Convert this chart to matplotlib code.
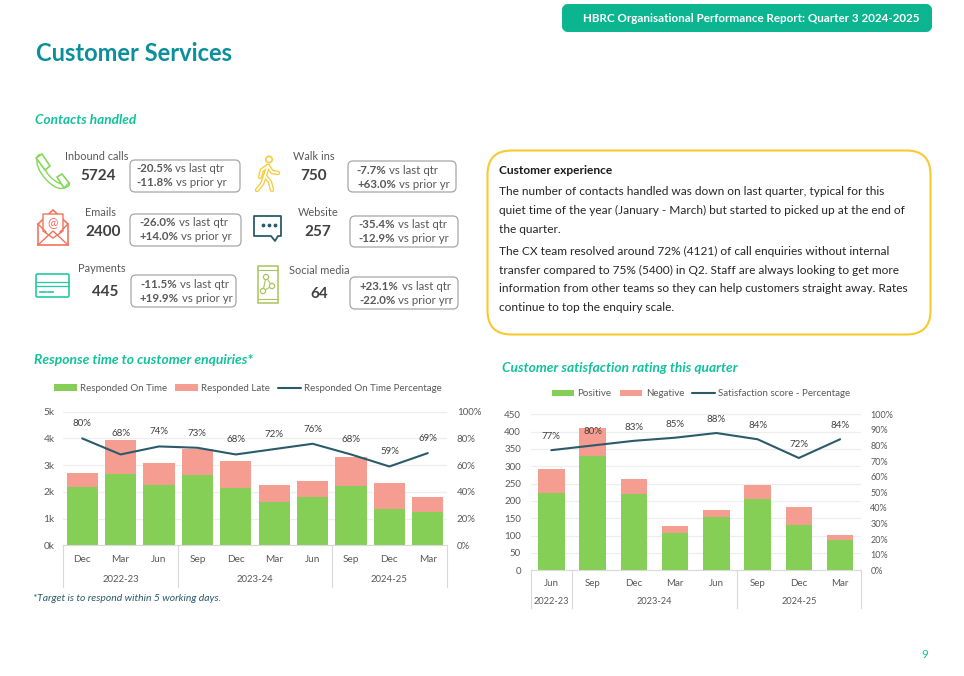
import matplotlib
matplotlib.use('Agg')
import matplotlib.pyplot as plt
from matplotlib.patches import FancyBboxPatch, Rectangle, Circle, PathPatch, Polygon
from matplotlib.path import Path

plt.rcParams['font.family'] = ['Lato', 'DejaVu Sans']

W, H = 964, 676

# response time chart
resp_months = ['Dec', 'Mar', 'Jun', 'Sep', 'Dec', 'Mar', 'Jun', 'Sep', 'Dec', 'Mar']
resp_years = [('2022-23', 3), ('2023-24', 4), ('2024-25', 3)]
resp_on_time = [2180, 2660, 2260, 2640, 2140, 1620, 1820, 2220, 1370, 1250]
resp_late = [520, 1290, 810, 970, 1010, 630, 590, 1070, 950, 550]
resp_pct = [80, 68, 74, 73, 68, 72, 76, 68, 59, 69]

# satisfaction chart
sat_months = ['Jun', 'Sep', 'Dec', 'Mar', 'Jun', 'Sep', 'Dec', 'Mar']
sat_years = [('2022-23', 1), ('2023-24', 4), ('2024-25', 3)]
sat_positive = [223, 329, 219, 109, 155, 207, 131, 87]
sat_negative = [68, 81, 44, 20, 19, 39, 51, 15]
sat_pct = [77, 80, 83, 85, 88, 84, 72, 84]

# KPI blocks: label, value, (label x, y), (value x, y), box, line 1, line 2
kpis = [
    ('Inbound calls', '5724', (97, 156), (98, 175.5), (130, 160, 240, 192),
     ('-20.5%', ' vs last qtr', 136, 168), ('-11.8%', ' vs prior yr', 136, 182)),
    ('Walk ins', '750', (314, 156.5), (314, 175.5), (348, 161, 456, 192),
     ('-7.7%', ' vs last qtr', 356, 170), ('+63.0%', ' vs prior yr', 357, 184)),
    ('Emails', '2400', (101, 212), (103, 231.5), (130, 214, 241, 246),
     ('-26.0%', ' vs last qtr', 139, 223), ('+14.0%', ' vs prior yr', 139, 237)),
    ('Website', '257', (318, 212), (318, 231.5), (350, 216, 458, 247),
     ('-35.4%', ' vs last qtr', 358, 225), ('-12.9%', ' vs prior yr', 358, 239)),
    ('Payments', '445', (102, 269), (105, 292.5), (131, 275, 236, 307),
     ('-11.5%', ' vs last qtr', 140, 284), ('+19.9%', ' vs prior yr', 140, 299)),
    ('Social media', '64', (319, 271), (319, 294.5), (350, 277, 458, 309),
     ('+23.1%', ' vs last qtr', 360, 286), ('-22.0%', ' vs prior yrr', 359, 300)),
]

cx_lines = [
    'The number of contacts handled was down on last quarter, typical for this',
    'quiet time of the year (January - March) but started to picked up at the end of',
    'the quarter.',
    'The CX team resolved around 72% (4121) of call enquiries without internal',
    'transfer compared to 75% (5400) in Q2. Staff are always looking to get more',
    'information from other teams so they can help customers straight away. Rates',
    'continue to top the enquiry scale.',
]
cx_y = [191.5, 210.5, 229.5, 251.5, 270.5, 288.5, 307.5]

GREEN = '#86cf57'
SALMON = '#f59d90'
LINE = '#2b5b6b'
TITLE_GREEN = '#12c29b'
TEAL = '#0b8f9c'
GREY = '#595959'
GRID = '#eeeeee'
SEP = '#d9d9d9'

fig = plt.figure(figsize=(W / 100, H / 100), dpi=100, facecolor='white')

# full page overlay in pixel coordinates
page = fig.add_axes([0, 0, 1, 1], zorder=0)
page.set_xlim(0, W)
page.set_ylim(H, 0)
page.axis('off')


def combo_chart(box, months, years, bars1, bars2, pct, ymax, yticks, yfmt, pct_step, width,
                names, month_y, year_y, sep_bottom, leg_xy, leg_size, tick_pad, nudge, sizes):
    left, top, right, bottom = box
    ax = fig.add_axes([left / W, 1 - bottom / H, (right - left) / W, (bottom - top) / H], zorder=2)
    ax.patch.set_alpha(0)
    x = list(range(len(months)))
    h1 = ax.bar(x, bars1, width, color=GREEN, zorder=2, label=names[0])
    h2 = ax.bar(x, bars2, width, bottom=bars1, color=SALMON, zorder=2, label=names[1])
    ax.set_xlim(-0.5, len(months) - 0.5)
    ax.set_ylim(0, ymax)
    ax.set_yticks(yticks)
    ax.set_yticklabels([yfmt(v) for v in yticks], fontsize=sizes['left'], color=GREY)
    ax.tick_params(axis='y', length=0, pad=tick_pad[0])
    ax.set_xticks([])
    ax.grid(axis='y', color=GRID, lw=0.9, zorder=0)
    ax.set_axisbelow(True)
    for s in ['top', 'left', 'right']:
        ax.spines[s].set_visible(False)
    ax.spines['bottom'].set_color(SEP)
    ax.spines['bottom'].set_linewidth(0.8)

    ax2 = ax.twinx()
    ax2.patch.set_alpha(0)
    ax2.set_ylim(0, 100)
    pticks = list(range(0, 101, pct_step))
    ax2.set_yticks(pticks)
    ax2.set_yticklabels(['%d%%' % v for v in pticks], fontsize=sizes['right'], color=GREY)
    ax2.tick_params(axis='y', length=0, pad=tick_pad[1])
    for s in ax2.spines.values():
        s.set_visible(False)
    h3, = ax2.plot(x, pct, color=LINE, lw=1.5, zorder=4, label=names[2], solid_capstyle='round')
    for i, v in enumerate(pct):
        off = nudge.get(i, nudge['all'])
        ax2.annotate('%d%%' % v, (i, v), xytext=(0, off * 0.72), textcoords='offset points',
                     ha='center', va='center', fontsize=sizes['pct'], color='#404040', zorder=5)

    leg = fig.legend(handles=[h1, h2, h3], loc='center', bbox_to_anchor=(leg_xy[0] / W, 1 - leg_xy[1] / H),
                     ncol=3, frameon=False, fontsize=leg_size, labelcolor=GREY, handlelength=2.3,
                     handleheight=0.6, handletextpad=0.35, columnspacing=0.85, borderpad=0)
    leg.set_zorder(3)

    # two level category axis
    step = (right - left) / len(months)
    for i, m in enumerate(months):
        page.text(left + step * (i + 0.5), month_y, m, ha='center', va='center', fontsize=sizes['month'], color=GREY)
    n = 0
    page.plot([left, left], [bottom, sep_bottom], color=SEP, lw=0.8)
    for name, count in years:
        page.text(left + step * (n + count / 2), year_y, name, ha='center', va='center', fontsize=sizes['year'], color=GREY)
        n += count
        page.plot([left + step * n] * 2, [bottom, sep_bottom], color=SEP, lw=0.8)


combo_chart((63, 411.7, 447, 545.3), resp_months, resp_years, resp_on_time, resp_late, resp_pct,
            5000, [0, 1000, 2000, 3000, 4000, 5000], lambda v: '%dk' % (v / 1000), 20, 0.81,
            ['Responded On Time', 'Responded Late', 'Responded On Time Percentage'],
            559, 579, 587, (248, 388.5), 7.0, (6, 7), {'all': 14.5, 1: 21},
            {'left': 7.3, 'right': 7.0, 'pct': 7.0, 'month': 7.2, 'year': 6.9})

combo_chart((530.7, 414.3, 860.7, 570.3), sat_months, sat_years, sat_positive, sat_negative, sat_pct,
            450, list(range(0, 451, 50)), lambda v: '%d' % v, 10, 0.64,
            ['Positive', 'Negative', 'Satisfaction score - Percentage'],
            583, 602, 608, (701, 394), 7.0, (7, 7), {'all': 13.5},
            {'left': 7.0, 'right': 6.5, 'pct': 7.0, 'month': 7.0, 'year': 6.6})

# header, titles
page.add_patch(FancyBboxPatch((564.8, 6.8), 364.4, 22.4, boxstyle='round,pad=0,rounding_size=3',
                              fc='#0ab58f', ec='#0ab58f', lw=4, joinstyle='round'))
page.text(583, 19, 'HBRC Organisational Performance Report: Quarter 3 2024-2025', color='white',
          fontsize=8.35, fontweight='bold', va='center')
page.text(36, 53.5, 'Customer Services', color=TEAL, fontsize=17, fontweight='bold', va='center')
page.text(35, 119.5, 'Contacts handled', color=TITLE_GREEN, fontsize=9.8, fontweight='bold', style='italic', va='center')
page.text(34, 359.5, 'Response time to customer enquiries*', color=TITLE_GREEN, fontsize=10, fontweight='bold',
          style='italic', va='center')
page.text(502, 367.5, 'Customer satisfaction rating this quarter', color=TITLE_GREEN, fontsize=9.9, fontweight='bold',
          style='italic', va='center')
page.text(33, 598.5, '*Target is to respond within 5 working days.', color=LINE, fontsize=7.45, style='italic', va='center')
page.text(925, 655, '9', color=TITLE_GREEN, fontsize=8.5, ha='center', va='center')

# customer experience box
page.add_patch(FancyBboxPatch((487.5, 150.5), 443, 184, boxstyle='round,pad=0,rounding_size=24',
                              fc='white', ec='#f9c92f', lw=1.5))
page.text(499, 170, 'Customer experience', fontsize=8.6, fontweight='bold', color='#1a1a1a', va='center')
for txt, yy in zip(cx_lines, cx_y):
    page.text(499, yy, txt, fontsize=8.6, color='#262626', va='center')

# KPI blocks
for label, value, lxy, vxy, b, l1, l2 in kpis:
    page.text(lxy[0], lxy[1], label, ha='center', va='center', fontsize=7.9, color=GREY)
    page.text(vxy[0], vxy[1], value, ha='center', va='center', fontsize=11, fontweight='bold', color='#404040')
    page.add_patch(FancyBboxPatch((b[0], b[1]), b[2] - b[0], b[3] - b[1], boxstyle='round,pad=0,rounding_size=5',
                                  fc='white', ec='#a6a6a6', lw=0.9))
    for bold, rest, tx, ty in (l1, l2):
        t = page.text(tx, ty, bold, fontsize=8.25, fontweight='bold', color=GREY, va='center')
        page.annotate(rest, xy=(1, 0), xycoords=t, va='bottom', ha='left', fontsize=8.25, color=GREY)

# icons: phone
ph = '#83d75a'
phone = Path([(40, 157), (37, 166), (48, 178), (59, 190), (67, 184)],
             [Path.MOVETO, Path.CURVE3, Path.CURVE3, Path.CURVE3, Path.CURVE3])
page.add_patch(PathPatch(phone, fc='none', ec=ph, lw=4.6, capstyle='round'))
page.add_patch(PathPatch(phone, fc='none', ec='white', lw=2.6, capstyle='round'))
page.add_patch(Polygon([(36, 158), (42, 154), (50, 166), (45, 170)], closed=True, fc='white', ec=ph, lw=1.2, joinstyle='round'))
page.add_patch(Polygon([(57, 177), (62, 174), (69, 183), (64, 188)], closed=True, fc='white', ec=ph, lw=1.2, joinstyle='round'))

# walker
yl = '#f6cb3c'
page.add_patch(Circle((269, 159.5), 3.2, fc='white', ec=yl, lw=1.2))
walker = ([(268, 166), (265, 176), (270, 182), (272, 190)], [(265, 176), (262, 184), (257, 190)],
          [(268, 166), (262, 170), (260, 177)], [(268, 166), (272, 172), (278, 173)])
for colour, lw in ((yl, 3.2), ('white', 1.3)):
    for seg in walker:
        xs, ys = zip(*seg)
        page.plot(xs, ys, color=colour, lw=lw, solid_capstyle='round', solid_joinstyle='round')

# envelope
co = '#f2735c'
page.add_patch(Polygon([(38, 224), (53, 210), (68, 224), (68, 245), (38, 245)], closed=True, fc='white', ec=co, lw=1.2))
page.add_patch(Polygon([(43, 214), (63, 214), (63, 231), (53, 238), (43, 231)], closed=True, fc='white', ec=co, lw=1))
page.plot([38, 53, 68], [245, 231, 245], color=co, lw=1)
page.plot([38, 46], [224, 232], color=co, lw=1)
page.plot([68, 60], [224, 232], color=co, lw=1)
page.text(53, 223, '@', color=co, fontsize=9, ha='center', va='center')

# chat bubble
page.add_patch(Polygon([(254, 216), (281, 216), (281, 236), (278, 236), (275, 241), (271, 236), (254, 236)],
                       closed=True, fc='white', ec=LINE, lw=1.3, joinstyle='round'))
page.scatter([263, 269, 275], [225, 225, 225], s=3, color=LINE, zorder=3)

# card
tc = '#22cba3'
page.add_patch(FancyBboxPatch((36, 274), 33, 23, boxstyle='round,pad=0,rounding_size=1.5', fc='white', ec=tc, lw=1.2))
page.plot([36, 69], [282, 282], color=tc, lw=0.9)
page.plot([36, 69], [286, 286], color=tc, lw=0.9)
page.plot([40, 46], [292, 292], color=tc, lw=1.2)
page.plot([48, 53], [292, 292], color=tc, lw=1.2)

# mobile with network
ol = '#a9c45c'
page.add_patch(Rectangle((258, 266), 20, 37, fc='white', ec=ol, lw=1.1))
page.plot([258, 278], [269.5, 269.5], color=ol, lw=0.8)
page.plot([258, 278], [299, 299], color=ol, lw=0.8)
page.plot([266, 272, 263, 266], [277, 286, 291, 277], color=ol, lw=0.8)
for cx, cy in [(266, 277), (272, 286), (263, 291)]:
    page.add_patch(Circle((cx, cy), 2.6, fc='white', ec=ol, lw=0.9, zorder=3))

fig.savefig('out.png', dpi=100, facecolor='white')
